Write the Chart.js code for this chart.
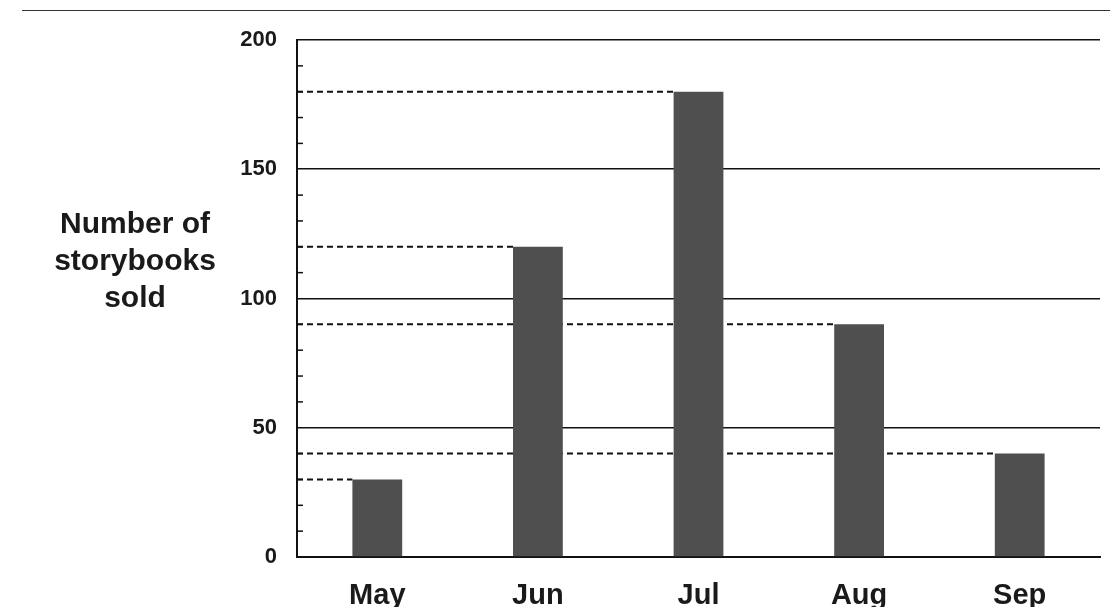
<!DOCTYPE html>
<html>
<head>
<meta charset="utf-8">
<script src="https://cdn.jsdelivr.net/npm/chart.js@4.4.1/dist/chart.umd.min.js"></script>
<style>
    html, body { margin: 0; padding: 0; background: #fff; }
    #wrap { width: 1110px; height: 607px; }
</style>
</head>
<body>
<div id="wrap"><canvas id="mychart" width="1110" height="607"></canvas></div>
<script>
// chart data
const months = ['May', 'Jun', 'Jul', 'Aug', 'Sep'];
const booksSold = [30, 120, 180, 90, 40];
const yTicks = [0, 50, 100, 150, 200];
const yTitle = ['Number of', 'storybooks', 'sold'];

const FONT = "'Liberation Sans', Arial, sans-serif";

// dashed guide lines from the axis to the left edge of each bar
const guideLines = {
    id: 'guideLines',
    beforeDatasetsDraw(chart) {
        const ctx = chart.ctx;
        const area = chart.chartArea;
        const bars = chart.getDatasetMeta(0).data;
        ctx.save();
        ctx.strokeStyle = '#111';
        ctx.lineWidth = 2;
        ctx.setLineDash([6, 4]);
        bars.forEach(bar => {
            ctx.beginPath();
            ctx.moveTo(area.left, bar.y);
            ctx.lineTo(bar.x - bar.width / 2, bar.y);
            ctx.stroke();
        });
        ctx.restore();
    }
};

// minor ticks every 10, the horizontal axis title and the scan line on top
const extras = {
    id: 'extras',
    afterDraw(chart) {
        const ctx = chart.ctx;
        const y = chart.scales.y;
        const area = chart.chartArea;
        ctx.save();
        ctx.strokeStyle = '#111';
        ctx.lineWidth = 1.5;
        for (let v = y.min + 10; v < y.max; v += 10) {
            if (v % 50 === 0) continue;
            const py = y.getPixelForValue(v);
            ctx.beginPath();
            ctx.moveTo(area.left, py);
            ctx.lineTo(area.left + 6, py);
            ctx.stroke();
        }

        ctx.fillStyle = '#1a1a1a';
        ctx.font = 'bold 30px ' + FONT;
        ctx.textAlign = 'center';
        ctx.textBaseline = 'alphabetic';
        yTitle.forEach((line, i) => {
            ctx.fillText(line, 135, 233 + i * 37);
        });

        ctx.strokeStyle = '#333';
        ctx.lineWidth = 1;
        ctx.beginPath();
        ctx.moveTo(22, 10.5);
        ctx.lineTo(chart.width, 10.5);
        ctx.stroke();
        ctx.restore();
    }
};

const config = {
    type: 'bar',
    data: {
        labels: months,
        datasets: [{
            data: booksSold,
            backgroundColor: '#4f4f4f',
            borderWidth: 0,
            barPercentage: 0.31,
            categoryPercentage: 1
        }]
    },
    options: {
        responsive: false,
        animation: false,
        devicePixelRatio: 1,
        layout: { padding: { left: 0, top: 40, right: 10, bottom: 0 } },
        plugins: {
            legend: { display: false },
            tooltip: { enabled: false }
        },
        scales: {
            x: {
                grid: { display: false },
                border: { display: true, color: '#111', width: 2 },
                ticks: {
                    color: '#1a1a1a',
                    font: { family: FONT, size: 29, weight: 'bold' },
                    padding: 14
                },
                afterFit: s => { s.height = 50; }
            },
            y: {
                min: 0,
                max: 200,
                afterBuildTicks: s => { s.ticks = yTicks.map(v => ({ value: v })); },
                grid: {
                    color: '#111',
                    lineWidth: 1.6,
                    drawTicks: false
                },
                border: { display: true, color: '#111', width: 2 },
                ticks: {
                    color: '#1a1a1a',
                    font: { family: FONT, size: 22, weight: 'bold' },
                    padding: 20
                },
                afterFit: s => { s.width = 297; }
            }
        }
    },
    plugins: [guideLines, extras]
};

try {
    new Chart(document.getElementById('mychart'), config);
} catch (error) {
    console.error(error.message);
}
</script>
</body>
</html>
